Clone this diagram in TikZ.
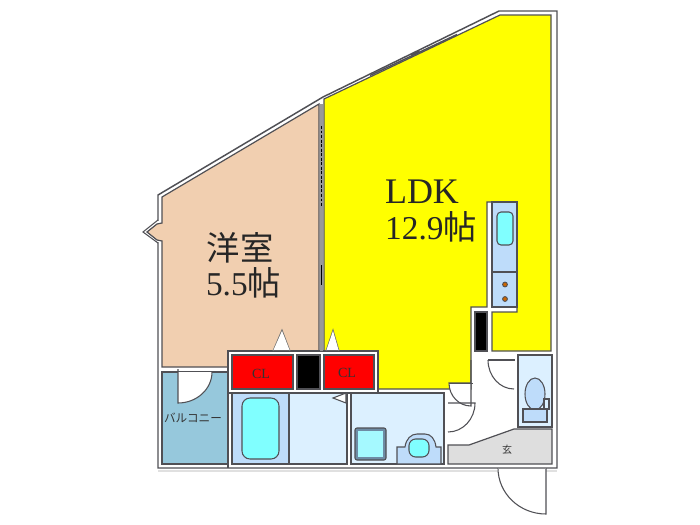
\documentclass[tikz,border=0pt]{standalone}
\usepackage{fontspec}
\setmainfont{Liberation Serif}
\newfontfamily\jpfont{Noto Sans CJK JP}
\definecolor{wallc}{RGB}{80,80,85}
\definecolor{peach}{RGB}{241,207,176}
\definecolor{ldk}{RGB}{255,255,0}
\definecolor{balc}{RGB}{150,200,220}
\definecolor{clred}{RGB}{255,0,0}
\definecolor{palebl}{RGB}{220,240,255}
\definecolor{midbl}{RGB}{190,220,250}
\definecolor{cyanf}{RGB}{128,255,255}
\definecolor{genkan}{RGB}{222,222,222}
\definecolor{sinkedge}{RGB}{110,140,165}
\tikzset{
  room/.style={draw=wallc,line width=0.9pt,line join=miter},
  wallline/.style={draw=wallc,line width=1.1pt,line join=miter},
  fixture/.style={draw=wallc,line width=0.8pt},
  swing/.style={draw=wallc,line width=0.8pt,fill=white},
  bigtxt/.style={font=\fontsize{25}{29}\selectfont,align=center,inner sep=0pt,text=black!85},
  smalltxt/.style={inner sep=0pt,text=black!80}
}
\begin{document}
\begin{tikzpicture}[x=0.75pt,y=-0.75pt]
\useasboundingbox (0,0) rectangle (700,525);
\draw[black!12,line width=0.8pt] (158,471) -- (557,471);
% entrance door
\draw[swing] (546,468) -- (546,514) arc[start angle=90,end angle=180,x radius=48,y radius=46] -- cycle;
\draw[fill=white,draw=none] (498,467) rectangle (546,469);
% outer shell
\draw[wallline,fill=white] (158,195) -- (323,97) -- (499,11) -- (557,11) -- (557,468) -- (158,468) -- cycle;
\draw[draw=none,fill=white] (156,221) -- (145,232) -- (156,242) -- (160,242) -- (160,221) -- cycle;
\draw[wallline,line width=0.8pt] (158,220) -- (143,232) -- (158,243);
% rooms
\draw[room,fill=peach] (162,197) -- (319,104) -- (319,351) -- (228,351) -- (228,367) -- (162,367) -- (162,241) -- (157,240) -- (147,232) -- (157,224) -- (162,223) -- cycle;
\draw[room,fill=ldk] (324,99) -- (500,15) -- (551,15) -- (551,351) -- (492,351) -- (492,312) -- (517,312) -- (517,202) -- (487,202) -- (487,307) -- (471,307) -- (471,389) -- (378,389) -- (378,351) -- (324,351) -- cycle;
\draw[room,fill=balc] (162,372) rectangle (228,464);
\draw[room,fill=white] (228,351) -- (378,351) -- (378,393) -- (228,393) -- cycle;
\draw[draw=wallc,line width=0.9pt] (228,351) -- (228,468);
\draw[room,fill=clred] (232,355) rectangle (293,389);
\draw[room,fill=black] (297,355) rectangle (320,389);
\draw[room,fill=clred] (324,355) rectangle (374,389);
\draw[room,fill=midbl] (232,393) rectangle (289,464);
\draw[room,fill=palebl] (289,393) rectangle (347,464);
\draw[room,fill=palebl] (351,393) rectangle (444,464);
\draw[room,fill=genkan] (448,445) -- (469,445) -- (514,429) -- (552,429) -- (552,464) -- (448,464) -- cycle;
\draw[room,fill=palebl] (518,355) rectangle (552,427);
\draw[room,fill=black] (475,312) rectangle (487,351);
% central wall between rooms
\fill[black!40] (320,104) rectangle (323,351);
\draw[black,line width=0.9pt,dash pattern=on 2.2pt off 1.2pt] (321.5,126) -- (321.5,206);
\draw[black,line width=0.9pt] (321.5,265) -- (321.5,285);
% slanted window
\draw[wallc,line width=1.1pt] (370,75.5) -- (457,34.5);
\draw[wallc,line width=1.5pt] (411,55) -- (419,51);
% door leaves
\fill[white] (178,372) -- (212,372) arc[start angle=0,end angle=90,x radius=34,y radius=31] -- cycle;
\draw[fixture] (178,369) -- (178,403) arc[start angle=90,end angle=0,x radius=34,y radius=31];
\draw[swing] (471,383) -- (449,383) arc[start angle=180,end angle=90,x radius=22,y radius=23] -- (471,360);
\draw[fixture] (449,383.5) -- (473,383.5);
\draw[fixture] (448,403) -- (475,403) arc[start angle=0,end angle=90,x radius=27,y radius=29];
\draw[fixture] (488,360) -- (515,360);
\draw[fixture] (488,360) arc[start angle=180,end angle=90,x radius=26,y radius=29];
% wall openings
\draw[draw=black!55,line width=0.8pt] (273,351) -- (282,330) -- (290,351);
\fill[white] (273.5,350) -- (282,331) -- (289.5,350) -- cycle;
\draw[draw=black!55,line width=0.8pt] (326,351) -- (333,330) -- (339,351);
\fill[white] (326.5,350) -- (333,331) -- (338.5,350) -- cycle;
\draw[fixture,fill=white] (346,393) -- (333,398) -- (346,403) -- cycle;
% bath
\draw[fixture,fill=cyanf,rounded corners=6pt] (242,398) rectangle (279,459);
% sink square
\draw[fixture,fill=sinkedge,rounded corners=1.5pt] (355,428) rectangle (386,460);
\draw[draw=none,fill=cyanf!60!palebl] (358,431) rectangle (383,457);
% wash basin
\draw[fixture,fill=midbl] (397,464) -- (397,447) -- (405,447) .. controls (406,439) and (411,434) .. (417,434) -- (425,434) .. controls (431,434) and (435,439) .. (436,447) -- (441,447) -- (441,464) -- cycle;
\draw[fixture,fill=cyanf,rounded corners=5pt] (409,439) rectangle (429,457);
% toilet
\draw[fixture,fill=midbl] (535,394) ellipse[x radius=10,y radius=16];
\draw[fixture,fill=midbl] (523,409) rectangle (547,422);
\draw[fixture,fill=palebl] (544,399) rectangle (549,409);
% kitchen
\draw[room,fill=midbl] (492,202) rectangle (517,307);
\draw[room] (492,272) -- (517,272);
\draw[fixture,fill=cyanf,rounded corners=3pt] (497,212) rectangle (513,245);
\draw[draw=wallc,line width=0.7pt,fill=orange!80!black] (505,284.5) circle[radius=2.4];
\draw[draw=wallc,line width=0.7pt,fill=orange!80!black] (505,299) circle[radius=2.4];
% labels
\node[bigtxt,font=\jpfont\fontsize{25}{29}\selectfont] (western) at (240,248) {洋室};
\node[bigtxt] (westernarea) at (243.5,283) {5.5{\jpfont\fontsize{25}{29}\selectfont 帖}};
\node[bigtxt,font=\fontsize{27}{29}\selectfont] (ldklabel) at (422,192) {LDK};
\node[bigtxt] (ldkarea) at (431,227) {12.9{\jpfont\fontsize{25}{29}\selectfont 帖}};
\node[smalltxt,font=\fontsize{10.5}{12}\selectfont] (cl1) at (261,374) {CL};
\node[smalltxt,font=\fontsize{10.5}{12}\selectfont] (cl2) at (347,373) {CL};
\node[smalltxt,font=\jpfont\fontsize{8.7}{10}\selectfont] (balcony) at (193,418) {バルコニー};
\node[smalltxt,font=\jpfont\fontsize{7.5}{9}\selectfont] (genkanlabel) at (507,450) {玄};
\end{tikzpicture}
\end{document}
